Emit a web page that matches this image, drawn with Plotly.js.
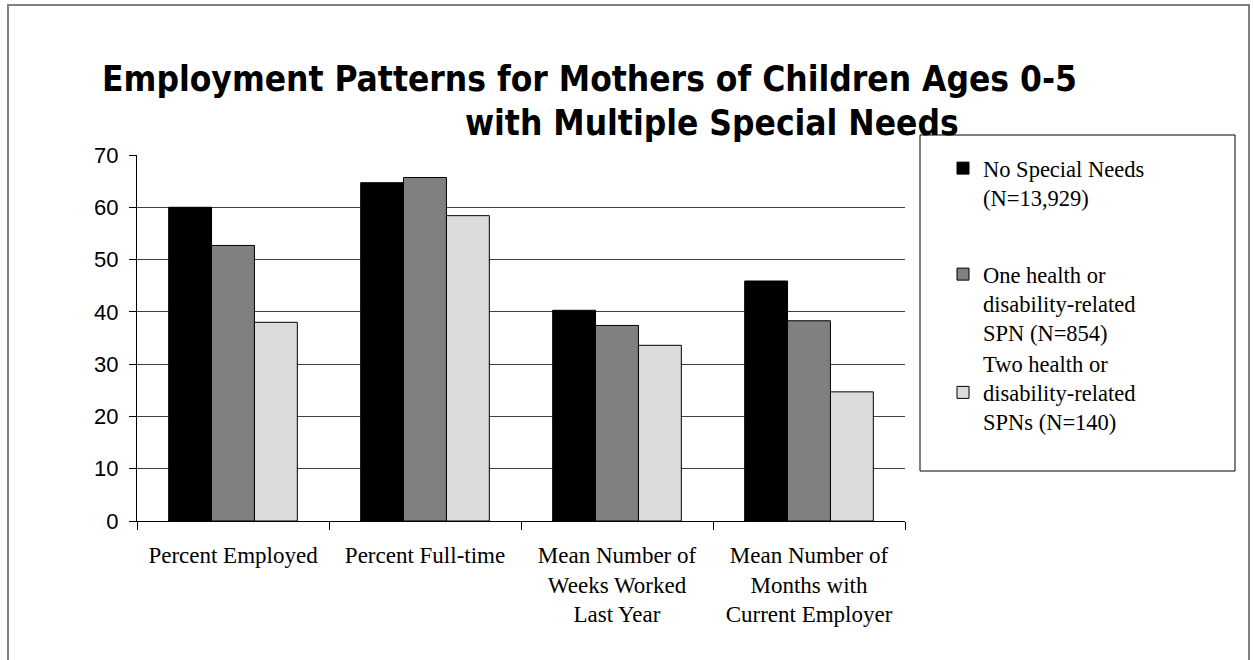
<!DOCTYPE html>
<html>
<head>
<meta charset="utf-8">
<script src="https://cdn.plot.ly/plotly-3.0.1.min.js"></script>
<style>
  html, body { margin: 0; padding: 0; background: #ffffff; }
  #chart { width: 1253px; height: 660px; }
</style>
</head>
<body>
<div id="chart"></div>
<script>
// ---- Data ----
var categories = [
  "Percent Employed",
  "Percent Full-time",
  "Mean Number of<br>Weeks Worked<br>Last Year",
  "Mean Number of<br>Months with<br>Current Employer"
];
var seriesNames = [
  "No Special Needs<br>(N=13,929)",
  "One health or<br>disability-related<br>SPN (N=854)",
  "Two health or<br>disability-related<br>SPNs (N=140)"
];
var noSpecialNeeds = [60.0, 64.7, 40.3, 45.9];
var oneSPN = [52.7, 65.7, 37.4, 38.3];
var twoSPN = [38.0, 58.4, 33.6, 24.7];
var yTickValues = [0, 10, 20, 30, 40, 50, 60, 70];
var titleLine1 = "Employment Patterns for Mothers of Children Ages 0-5";
var titleLine2 = "with Multiple Special Needs";

// ---- Layout helpers (pixel -> paper) ----
var W = 1253, H = 660;
var M = { l: 137, r: 348, t: 155, b: 139 };
var PW = W - M.l - M.r, PH = H - M.t - M.b;
function px(x) { return (x - M.l) / PW; }
function py(y) { return (H - M.b - y) / PH; }

var serif = "Liberation Serif, Times New Roman, serif";
var sans = "Liberation Sans, Arial, sans-serif";
var titleFont = "DejaVu Sans Condensed, Liberation Sans, Arial, sans-serif";

var traces = [
  { name: seriesNames[0], y: noSpecialNeeds, color: "#000000", legend: "legend" },
  { name: seriesNames[1], y: oneSPN, color: "#808080", legend: "legend2" },
  { name: seriesNames[2], y: twoSPN, color: "#dcdcdc", legend: "legend3" }
].map(function (s) {
  return {
    type: "bar",
    x: categories,
    y: s.y,
    name: s.name,
    legend: s.legend,
    marker: { color: s.color, line: { color: "#000000", width: 1 } },
    hoverinfo: "x+y+name"
  };
});

function legendAt(xpx, ypx, valign) {
  return {
    x: px(xpx), y: py(ypx), xanchor: "left", yanchor: "top",
    xref: "paper", yref: "paper",
    bgcolor: "rgba(0,0,0,0)", borderwidth: 0,
    font: { family: serif, size: 22.5, color: "#000000" },
    valign: valign
  };
}

var layout = {
  width: W, height: H,
  margin: M,
  paper_bgcolor: "#ffffff",
  plot_bgcolor: "#ffffff",
  barmode: "group",
  bargap: 0.33,
  bargroupgap: 0,
  showlegend: true,
  title: {
    text: titleLine1,
    xref: "paper", x: px(589.5), xanchor: "center",
    yref: "container", y: 1 - 79 / H, yanchor: "middle",
    font: { family: titleFont, size: 35, weight: "bold", color: "#000000" }
  },
  annotations: [{
    text: titleLine2,
    xref: "paper", yref: "paper",
    x: px(711.5), y: py(123), xanchor: "center", yanchor: "middle",
    showarrow: false,
    font: { family: titleFont, size: 35, weight: "bold", color: "#000000" }
  }],
  xaxis: {
    type: "category",
    showline: true, linecolor: "#000000", linewidth: 1,
    ticks: "outside", tickson: "boundaries", ticklen: 8, tickcolor: "#000000",
    ticklabelstandoff: 13,
    tickfont: { family: serif, size: 23, color: "#000000" },
    showgrid: false, zeroline: false, fixedrange: true
  },
  yaxis: {
    range: [0, 70],
    tickvals: yTickValues,
    showline: true, linecolor: "#000000", linewidth: 1,
    ticks: "outside", ticklen: 7, tickcolor: "#000000",
    ticklabelstandoff: 6,
    tickfont: { family: sans, size: 22, color: "#000000" },
    showgrid: true, gridcolor: "#404040", gridwidth: 1,
    zeroline: false, fixedrange: true
  },
  legend: legendAt(943, 147, "top"),
  legend2: legendAt(943, 253, "top"),
  legend3: legendAt(943, 342, "middle"),
  shapes: [
    // outer chart frame
    { type: "rect", xref: "paper", yref: "paper",
      x0: px(8), x1: px(1249), y0: py(668), y1: py(5),
      line: { color: "#808080", width: 2 }, fillcolor: "rgba(0,0,0,0)", layer: "below" },
    // legend box
    { type: "rect", xref: "paper", yref: "paper",
      x0: px(920), x1: px(1235), y0: py(471), y1: py(135),
      line: { color: "#000000", width: 1 }, fillcolor: "rgba(0,0,0,0)", layer: "above" }
  ]
};

Plotly.newPlot("chart", traces, layout, { displayModeBar: false, staticPlot: false });
</script>
</body>
</html>
